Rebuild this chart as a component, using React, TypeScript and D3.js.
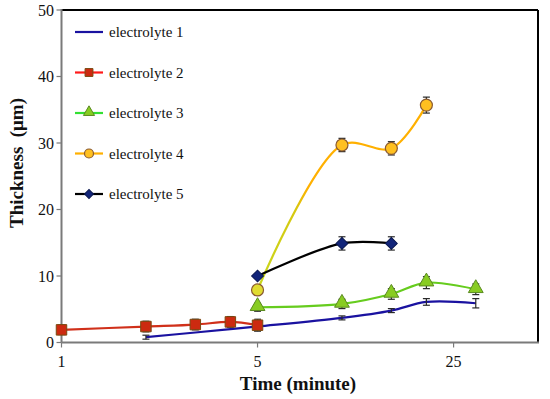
import * as d3 from 'd3';

// time (minute), thickness (µm), error
const e1X = [2, 3, 4, 5, 10, 15, 20, 30];
const e1Y = [0.8, 1.5, 2.0, 2.4, 3.7, 4.8, 6.1, 5.9];
const e1Err = [0.3, 0, 0, 0, 0.3, 0.3, 0.5, 0.7];

const e2X = [1, 2, 3, 4, 5];
const e2Y = [1.9, 2.4, 2.7, 3.1, 2.6];
const e2Err = [0.7, 0.8, 0.8, 0.8, 0.9];

const e3X = [5, 10, 15, 20, 30];
const e3Y = [5.3, 5.8, 7.3, 9.0, 8.0];
const e3Err = [0.6, 0.7, 0.8, 0.9, 0.8];

const e4X = [5, 10, 15, 20];
const e4Y = [7.9, 29.7, 29.2, 35.7];
const e4Err = [0, 1.0, 1.0, 1.2];

const e5X = [5, 10, 15];
const e5Y = [10.0, 14.9, 14.9];
const e5Err = [0, 1.0, 1.0];

const xTicks = [1, 5, 25];
const yTicks = [0, 10, 20, 30, 40, 50];

const W = 550;
const H = 399;
const left = 61.5, right = 538, top = 10, bottom = 342.5;

const x = d3.scaleLog().domain([1, 50]).range([left, right]);
const y = d3.scaleLinear().domain([0, 50]).range([bottom, top]);

type Series = {
  name: string;
  xs: number[];
  ys: number[];
  err: number[];
  line: string;
  marker: 'none' | 'square' | 'triangle' | 'circle' | 'diamond';
  fill: string;
  stroke: string;
};

const series: Series[] = [
  { name: 'electrolyte 1', xs: e1X, ys: e1Y, err: e1Err, line: '#1a12a0', marker: 'none', fill: 'none', stroke: 'none' },
  { name: 'electrolyte 2', xs: e2X, ys: e2Y, err: e2Err, line: '#d0301a', marker: 'square', fill: '#cc2a10', stroke: '#7a4a10' },
  { name: 'electrolyte 3', xs: e3X, ys: e3Y, err: e3Err, line: '#66cc1e', marker: 'triangle', fill: '#88cc22', stroke: '#5a8a20' },
  { name: 'electrolyte 4', xs: e4X, ys: e4Y, err: e4Err, line: '#ffb000', marker: 'circle', fill: '#ffc020', stroke: '#8a5a30' },
  { name: 'electrolyte 5', xs: e5X, ys: e5Y, err: e5Err, line: '#000000', marker: 'diamond', fill: '#12257a', stroke: '#0a1850' },
];

const lineGen = d3
  .line<[number, number]>()
  .x(d => x(d[0]))
  .y(d => y(d[1]))
  .curve(d3.curveCatmullRom.alpha(0.5));

function Marker({ kind, cx, cy, fill, stroke, s = 1 }: { kind: Series['marker']; cx: number; cy: number; fill: string; stroke: string; s?: number }) {
  if (kind === 'none') return null;
  if (kind === 'circle') {
    return <circle cx={cx} cy={cy} r={6 * s} fill={fill} stroke={stroke} strokeWidth={1.2} />;
  }
  const type = kind === 'triangle' ? d3.symbolTriangle : d3.symbolSquare;
  const size = kind === 'square' ? 110 : kind === 'triangle' ? 95 : 70;
  const dy = kind === 'triangle' ? -1 : 0;
  const rot = kind === 'diamond' ? ' rotate(45)' : '';
  return (
    <path
      d={d3.symbol().type(type).size(size * s * s)() || ''}
      transform={`translate(${cx},${cy + dy * s})${rot}`}
      fill={fill}
      stroke={stroke}
      strokeWidth={1}
    />
  );
}

const font = "'Liberation Serif', Tinos, 'DejaVu Serif', serif";

export default function App() {
  const legendY0 = 32;
  const legendGap = 40.5;
  const txt = { fontFamily: font };

  return (
    <svg width={W} height={H} style={{ position: 'absolute', left: 0, top: 0, background: '#fff' }}>
      <defs>
        <linearGradient id="g4" gradientUnits="userSpaceOnUse" x1={x(5)} y1={0} x2={x(10)} y2={0}>
          <stop offset="0" stopColor="#c8d81e" />
          <stop offset="0.45" stopColor="#d6c810" />
          <stop offset="0.6" stopColor="#ffb000" />
          <stop offset="1" stopColor="#ffb000" />
        </linearGradient>
      </defs>

      {/* frame */}
      <line x1={left} x2={right} y1={top} y2={top} stroke="#000" strokeWidth={2} />
      <line x1={right} x2={right} y1={top} y2={bottom} stroke="#000" strokeWidth={2} />
      <line x1={left} x2={left} y1={top - 1} y2={bottom} stroke="#7a7a7a" strokeWidth={2} />
      <line x1={left} x2={right + 1} y1={bottom} y2={bottom} stroke="#7a7a7a" strokeWidth={2} />

      {/* y ticks */}
      {yTicks.map(t => (
        <g key={`y${t}`}>
          <line x1={left - 5} x2={left} y1={y(t)} y2={y(t)} stroke="#7a7a7a" strokeWidth={1.2} />
          <text x={54} y={y(t) + 5.5} textAnchor="end" fontSize={16} fill="#111" style={txt}>{t}</text>
        </g>
      ))}

      {/* x ticks */}
      {xTicks.map(t => (
        <g key={`x${t}`}>
          <line x1={x(t)} x2={x(t)} y1={bottom} y2={bottom + 5} stroke="#7a7a7a" strokeWidth={1.2} />
          <text x={x(t)} y={367} textAnchor="middle" fontSize={16} fill="#111" style={txt}>{t}</text>
        </g>
      ))}

      <text x={298} y={390} textAnchor="middle" fontSize={19} fontWeight="bold" fill="#111" style={txt}>Time (minute)</text>
      <text
        transform={`translate(23,163) rotate(-90)`}
        textAnchor="middle"
        fontSize={19}
        fontWeight="bold"
        fill="#111"
        style={{ ...txt, whiteSpace: 'pre' }}
      >
        {'Thickness  (μm)'}
      </text>

      {/* lines */}
      {series.map((s, i) => (
        <path
          key={`l${i}`}
          d={lineGen(s.xs.map((v, j) => [v, s.ys[j]] as [number, number])) || ''}
          fill="none"
          stroke={i === 3 ? 'url(#g4)' : s.line}
          strokeWidth={2.2}
        />
      ))}

      {/* error bars */}
      {series.map((s, i) =>
        s.xs.map((v, j) =>
          s.err[j] > 0 ? (
            <g key={`e${i}-${j}`} stroke="#2a2a2a" strokeWidth={1.2}>
              <line x1={x(v)} x2={x(v)} y1={y(s.ys[j] - s.err[j])} y2={y(s.ys[j] + s.err[j])} />
              <line x1={x(v) - 3.5} x2={x(v) + 3.5} y1={y(s.ys[j] + s.err[j])} y2={y(s.ys[j] + s.err[j])} />
              <line x1={x(v) - 3.5} x2={x(v) + 3.5} y1={y(s.ys[j] - s.err[j])} y2={y(s.ys[j] - s.err[j])} />
            </g>
          ) : null
        )
      )}

      {/* markers */}
      {series.map((s, i) =>
        s.xs.map((v, j) => (
          <Marker
            key={`m${i}-${j}`}
            kind={s.marker}
            cx={x(v)}
            cy={y(s.ys[j])}
            fill={i === 3 && j === 0 ? '#e0dc30' : s.fill}
            stroke={s.stroke}
          />
        ))
      )}

      {/* legend */}
      {series.map((s, i) => {
        const ly = legendY0 + i * legendGap;
        return (
          <g key={`lg${i}`}>
            <line x1={75} x2={103} y1={ly} y2={ly} stroke={i === 1 ? '#ff1a1a' : i === 2 ? '#33e033' : s.line} strokeWidth={2.2} />
            <Marker kind={s.marker} cx={89} cy={ly} fill={s.fill} stroke={s.stroke} s={0.75} />
            <text x={109} y={ly + 5} fontSize={15} fill="#111" style={txt}>{s.name}</text>
          </g>
        );
      })}
    </svg>
  );
}
